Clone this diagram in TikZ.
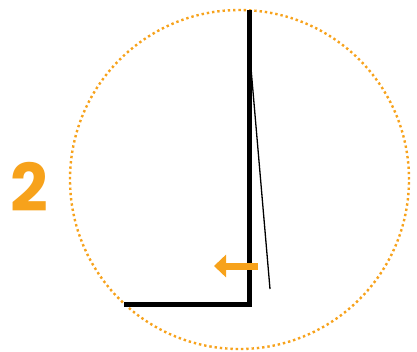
\documentclass[tikz,border=0pt]{standalone}
\usepackage{fontspec}
\newfontfamily\numfont{Poppins}
\definecolor{Orange}{HTML}{F7A21B}
\usetikzlibrary{arrows.meta}
\tikzset{
  ring/.style={draw=Orange, line width=2.4pt, dash pattern=on 2.4pt off 2.9pt},
  wall/.style={line width=5pt, color=black},
  ray/.style={line width=1.3pt, color=black},
  push/.style={-{Triangle[length=12pt, width=22pt]}, line width=7pt, color=Orange},
  num/.style={text=Orange, font=\numfont\bfseries\fontsize{66}{66}\selectfont, inner sep=0pt}
}
\begin{document}
\begin{tikzpicture}[x=1pt, y=-1pt]
\useasboundingbox (0,0) rectangle (417,351);

\draw[ring] (239.5,179.5) circle[radius=169.5pt];

\coordinate (top) at (249,10);
\coordinate (corner) at (249,304);
\coordinate (foot) at (124,304);
\draw[wall] (top) -- (corner) -- (foot);

\coordinate (rayA) at (249,45);
\coordinate (rayB) at (270,289);
\draw[ray] (rayA) -- (rayB);

\coordinate (pushA) at (258,266);
\coordinate (pushB) at (214,266);
\draw[push] (pushA) -- (pushB);

\node[num] (step) at (29.5,186.5) {2};

\end{tikzpicture}
\end{document}
